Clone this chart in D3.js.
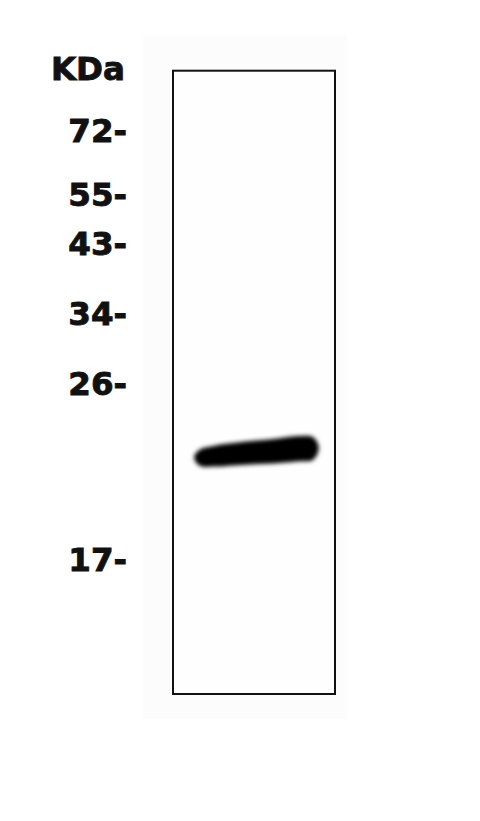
<!DOCTYPE html>
<html>
<head>
<meta charset="utf-8">
<script src="https://cdn.jsdelivr.net/npm/d3@7"></script>
<style>
  html, body { margin: 0; padding: 0; background: #fff; }
  #blot { width: 480px; height: 821px; }
  text { font-family: "DejaVu Sans", Verdana, sans-serif; font-weight: bold; }
</style>
</head>
<body>
<div id="blot"></div>
<script>
// marker ladder (kDa) and their relative mobility down the lane
const markerKDa = [72, 55, 43, 34, 26, 17];
const markerRf = [0.095, 0.198, 0.277, 0.389, 0.501, 0.784];
const unitLabel = 'KDa';

// band outline: position across lane vs top / bottom edge (Rf)
const bandFrac  = [0.13, 0.165, 0.25, 0.45, 0.62, 0.77, 0.865, 0.9];
const bandTopRf = [0.620, 0.608, 0.602, 0.595, 0.591, 0.586, 0.588, 0.605];
const bandBotRf = [0.620, 0.634, 0.635, 0.632, 0.630, 0.627, 0.624, 0.605];

function makeBlot(parentSelector) {
  const width = 480, height = 821;
  const lane = { left: 173, right: 335, top: 70.7, bottom: 694 };

  d3.select(parentSelector).selectAll('*').remove();
  const svg = d3.select(parentSelector)
    .append('svg')
    .attr('width', width)
    .attr('height', height);

  // soft blur for the band edges
  svg.append('defs').append('filter')
    .attr('id', 'soft')
    .attr('x', '-20%').attr('y', '-100%')
    .attr('width', '140%').attr('height', '300%')
    .append('feGaussianBlur')
    .attr('stdDeviation', 2.2);

  // scales: Rf -> pixel, kDa -> Rf (piecewise log through ladder)
  const y = d3.scaleLinear().domain([0, 1]).range([lane.top, lane.bottom]);
  const x = d3.scaleLinear().domain([0, 1]).range([lane.left, lane.right]);
  const rf = d3.scaleLog().domain(markerKDa).range(markerRf);

  // faint membrane tint around the lane
  svg.append('rect')
    .attr('x', lane.left - 30).attr('y', lane.top - 35)
    .attr('width', lane.right - lane.left + 42)
    .attr('height', lane.bottom - lane.top + 60)
    .attr('fill', '#fcfcfc');

  // lane box
  svg.append('rect')
    .attr('x', lane.left).attr('y', lane.top)
    .attr('width', lane.right - lane.left)
    .attr('height', lane.bottom - lane.top)
    .attr('fill', '#fefefe')
    .attr('stroke', '#111')
    .attr('stroke-width', 2);

  // band
  const pts = bandFrac.map((f, i) => [x(f), y(bandTopRf[i])])
    .concat(bandFrac.map((f, i) => [x(f), y(bandBotRf[i])]).reverse().slice(1, -1));
  svg.append('path')
    .attr('d', d3.line().curve(d3.curveCatmullRomClosed)(pts))
    .attr('fill', '#030303')
    .attr('filter', 'url(#soft)');

  // marker labels
  svg.selectAll('text.marker')
    .data(markerKDa)
    .enter()
    .append('text')
    .attr('class', 'marker')
    .attr('x', 127)
    .attr('y', d => y(rf(d)))
    .attr('dy', '0.36em')
    .attr('text-anchor', 'end')
    .attr('font-size', 32.5)
    .attr('fill', '#111')
    .attr('stroke', '#111')
    .attr('stroke-width', 0.9)
    .text(d => d + '-');

  svg.append('text')
    .attr('x', 125)
    .attr('y', y(0) - 2)
    .attr('dy', '0.36em')
    .attr('text-anchor', 'end')
    .attr('font-size', 32.5)
    .attr('fill', '#111')
    .attr('stroke', '#111')
    .attr('stroke-width', 0.9)
    .text(unitLabel);
}

makeBlot('#blot');
</script>
</body>
</html>
